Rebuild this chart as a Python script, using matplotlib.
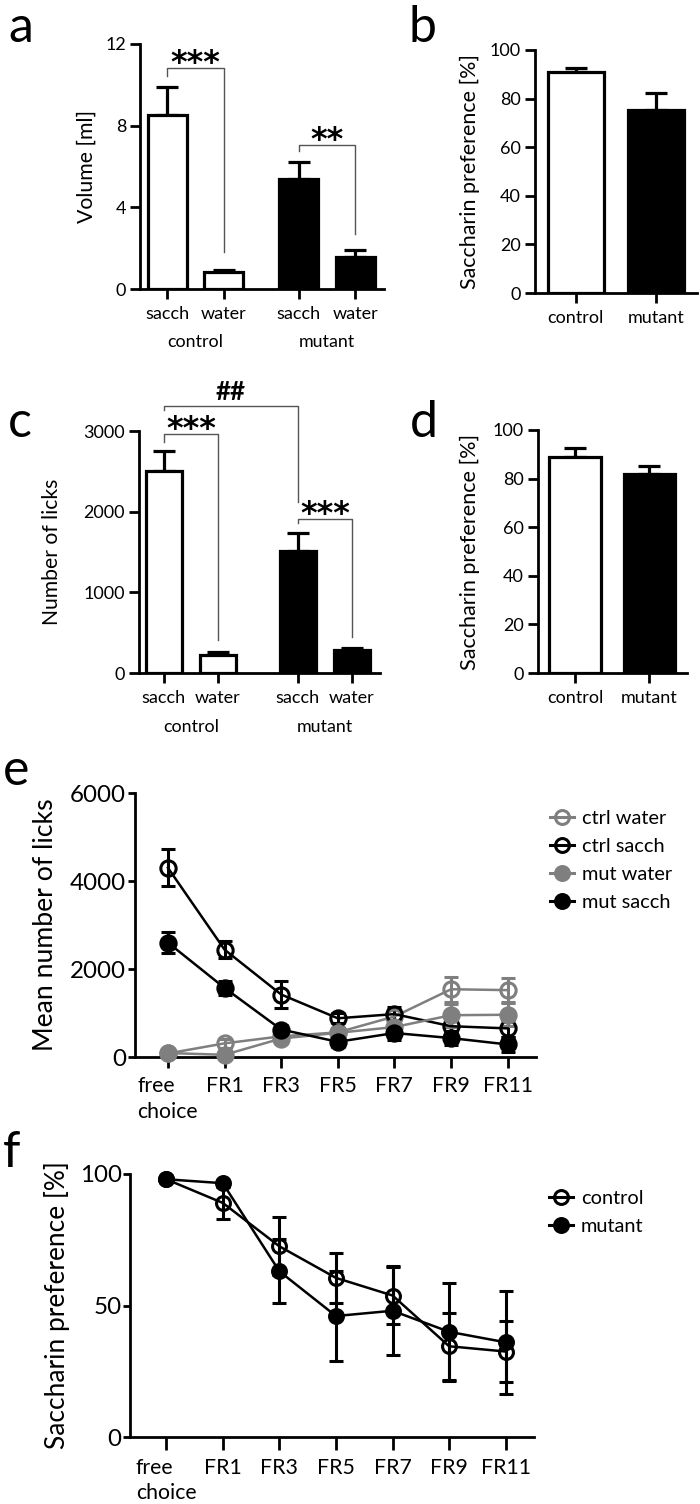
import matplotlib
matplotlib.use("Agg")
import matplotlib.pyplot as plt
from matplotlib.lines import Line2D
import numpy as np

plt.rcParams['font.family'] = ['Lato', 'DejaVu Sans']

# ---------------- data ----------------
a_ticklabels = ['sacch', 'water', 'sacch', 'water']
a_groups = ['control', 'mutant']
a_volume = [8.5, 0.83, 5.4, 1.55]
a_volume_err = [1.4, 0.1, 0.8, 0.35]

b_groups = ['control', 'mutant']
b_pref = [91.0, 75.3]
b_pref_err = [1.5, 7.2]

c_ticklabels = ['sacch', 'water', 'sacch', 'water']
c_groups = ['control', 'mutant']
c_licks = [2500, 225, 1515, 285]
c_licks_err = [250, 35, 225, 22]

d_groups = ['control', 'mutant']
d_pref = [89.0, 81.8]
d_pref_err = [3.7, 3.4]

stages = ['free\nchoice', 'FR1', 'FR3', 'FR5', 'FR7', 'FR9', 'FR11']
e_ctrl_water = [80, 310, 470, 560, 920, 1540, 1520]
e_ctrl_water_err = [30, 100, 90, 100, 150, 285, 270]
e_ctrl_sacch = [4300, 2440, 1420, 880, 975, 700, 650]
e_ctrl_sacch_err = [420, 190, 300, 110, 170, 150, 200]
e_mut_water = [90, 50, 420, 550, 680, 950, 960]
e_mut_water_err = [30, 30, 100, 100, 100, 260, 260]
e_mut_sacch = [2600, 1570, 625, 345, 545, 430, 285]
e_mut_sacch_err = [235, 150, 110, 110, 150, 150, 180]

f_ctrl = [98, 89, 72.5, 60.5, 53.8, 34.5, 32.5]
f_ctrl_err = [1, 6, 11, 9.5, 10.8, 12.7, 11.6]
f_mut = [98, 96.5, 63, 46, 48, 40, 36]
f_mut_err = [1, 1, 12.2, 17, 17, 18.6, 19.7]

# ---------------- layout ----------------
W, H = 700, 1504
fig = plt.figure(figsize=(W / 100, H / 100), dpi=100)
renderer = fig.canvas.get_renderer()
GRAY = '#7f7f7f'
SPW = 2.0


def size_for(s, target_w, **kw):
    t = fig.text(0, 0, s, fontsize=20, **kw)
    w = t.get_window_extent(renderer).width
    t.remove()
    return 20 * target_w / w


FS_BAR = size_for('sacch', 44)
FS_GRP = size_for('control', 56)
FS_LINE_X = size_for('FR11', 50)
FS_LINE_Y = size_for('6000', 56)
FS_STAR = size_for('***', 50, family='DejaVu Sans', fontweight='bold')
FS_HASH = size_for('##', 30, fontweight='bold')
FS_LEG = size_for('ctrl water', 85)


def ax_px(left, top, right, bottom):
    return fig.add_axes([left / W, 1 - bottom / H, (right - left) / W, (bottom - top) / H])


def style(ax, fsx, fsy, ylen=5, xlen=5, ypad=3, xpad=4):
    for s in ['top', 'right']:
        ax.spines[s].set_visible(False)
    for s in ['left', 'bottom']:
        ax.spines[s].set_linewidth(SPW)
    ax.tick_params(axis='y', length=ylen, width=SPW, labelsize=fsy, pad=ypad)
    ax.tick_params(axis='x', length=xlen, width=SPW, labelsize=fsx, pad=xpad)


def ylabel(ax, text, right_px, left_px, width_px, length_px):
    lab = ax.set_ylabel(text, fontsize=20)
    ext = lab.get_window_extent(renderer).height
    lab.set_fontsize(20 * length_px / ext)
    ax.yaxis.set_label_coords((right_px - left_px) / width_px, 0.5)


def panel_letter(x, y, s, size=36):
    fig.text(x / W, 1 - y / H, s, fontsize=size, ha='left', va='baseline')


def bars(ax, pos, vals, errs, width):
    colors = ['white', 'white', 'black', 'black'] if len(vals) == 4 else ['white', 'black']
    ax.bar(pos, vals, width=width, color=colors, edgecolor='black', linewidth=2.3, zorder=3)
    ax.errorbar(pos, vals, yerr=[np.zeros(len(vals)), errs], fmt='none', ecolor='black',
                elinewidth=2.3, capsize=8, capthick=2.3, zorder=2)


def bracket(ax, x1, x2, y, y1, y2, text, kind='star'):
    ax.plot([x1, x1, x2, x2], [y1, y, y, y2], color='#555555', lw=1.0, clip_on=False, zorder=4)
    if kind == 'star':
        ax.annotate(text, ((x1 + x2) / 2, y), xytext=(0, -2.5), textcoords='offset points',
                    ha='center', va='baseline', fontsize=FS_STAR, fontweight='bold',
                    family='DejaVu Sans', annotation_clip=False)
    else:
        ax.annotate(text, ((x1 + x2) / 2, y), xytext=(0, 4.5), textcoords='offset points',
                    ha='center', va='baseline', fontsize=FS_HASH, fontweight='bold',
                    annotation_clip=False)


# ---- panel a ----
axa = ax_px(140, 44, 384, 289)
pos_a = [0, 1, 2.33, 3.33]
bars(axa, pos_a, a_volume, a_volume_err, 0.69)
axa.set_xlim(-0.48, 3.84)
axa.set_ylim(0, 12)
axa.set_yticks([0, 4, 8, 12])
axa.set_xticks(pos_a)
axa.set_xticklabels(a_ticklabels)
style(axa, FS_BAR, FS_BAR, ylen=7, xlen=7, ypad=3, xpad=5)
ylabel(axa, 'Volume [ml]', 97, 140, 244, 113)
for gx, g in zip([0.5, 2.83], a_groups):
    axa.text(gx, -53 / 245, g, transform=axa.get_xaxis_transform(), ha='center',
             va='center', fontsize=FS_GRP)
bracket(axa, 0, 1, 10.8, 10.45, 1.8, '***')
bracket(axa, 2.33, 3.33, 7.05, 6.75, 2.7, '**')
panel_letter(8, 42, 'a')

# ---- panel b ----
axb = ax_px(535, 50, 697, 293)
bars(axb, [0, 1], b_pref, b_pref_err, 0.69)
axb.set_xlim(-0.51, 1.51)
axb.set_ylim(0, 100)
axb.set_yticks(range(0, 101, 20))
axb.set_xticks([0, 1])
axb.set_xticklabels(b_groups)
style(axb, FS_BAR, FS_BAR, ylen=7, xlen=7, xpad=5)
ylabel(axb, 'Saccharin preference [%]', 480, 535, 162, 235)
panel_letter(408, 42, 'b')

# ---- panel c ----
axc = ax_px(139, 431, 380, 673)
pos_c = [0, 1, 2.48, 3.48]
bars(axc, pos_c, c_licks, c_licks_err, 0.67)
axc.set_xlim(-0.46, 4.0)
axc.set_ylim(0, 3000)
axc.set_yticks([0, 1000, 2000, 3000])
axc.set_xticks(pos_c)
axc.set_xticklabels(c_ticklabels)
style(axc, FS_BAR, FS_BAR, ylen=7, xlen=7, xpad=5)
ylabel(axc, 'Number of licks', 62, 139, 241, 147)
for gx, g in zip([0.5, 2.98], c_groups):
    axc.text(gx, -54 / 242, g, transform=axc.get_xaxis_transform(), ha='center',
             va='center', fontsize=FS_GRP)
bracket(axc, 0, 1, 2960, 2865, 410, '***')
bracket(axc, 2.48, 3.48, 1906, 1857, 450, '***')
bracket(axc, 0, 2.48, 3310, 3256, 2120, '##', kind='hash')
panel_letter(8, 437, 'c')

# ---- panel d ----
axd = ax_px(538, 430, 687, 673)
bars(axd, [0, 1], d_pref, d_pref_err, 0.69)
axd.set_xlim(-0.5, 1.51)
axd.set_ylim(0, 100)
axd.set_yticks(range(0, 101, 20))
axd.set_xticks([0, 1])
axd.set_xticklabels(d_groups)
style(axd, FS_BAR, FS_BAR, ylen=7, xlen=7, xpad=5)
ylabel(axd, 'Saccharin preference [%]', 480, 538, 149, 237)
panel_letter(410, 437, 'd')

# ---- panel e ----
axe = ax_px(134.5, 793, 536, 1057)
x = np.arange(len(stages))
series_e = [
    (e_ctrl_water, e_ctrl_water_err, GRAY, 'none', 'ctrl water'),
    (e_ctrl_sacch, e_ctrl_sacch_err, 'black', 'none', 'ctrl sacch'),
    (e_mut_water, e_mut_water_err, GRAY, GRAY, 'mut water'),
    (e_mut_sacch, e_mut_sacch_err, 'black', 'black', 'mut sacch'),
]
handles_e = []
for vals, errs, col, fc, lab in series_e:
    axe.errorbar(x, vals, yerr=errs, color=col, lw=1.8, marker='o', ms=11,
                 mfc=fc, mec=col, mew=2.2, capsize=4.7, capthick=2.2, elinewidth=2.2,
                 clip_on=False, zorder=3)
    handles_e.append(Line2D([], [], color=col, lw=2.2, marker='o', ms=10, mfc=fc,
                            mec=col, mew=2.2, label=lab))
axe.set_xlim(-0.59, 6.5)
axe.set_ylim(0, 6000)
axe.set_yticks([0, 2000, 4000, 6000])
axe.set_xticks(x)
axe.set_xticklabels(stages, multialignment='left', linespacing=1.35)
style(axe, FS_LINE_X, FS_LINE_Y, ylen=5, xlen=8, ypad=1, xpad=6)
ylabel(axe, 'Mean number of licks', 58, 134.5, 401.5, 253)
axe.legend(handles=handles_e, loc='upper left', bbox_to_anchor=(550 / W, 1 - 810 / H),
           bbox_transform=fig.transFigure, frameon=False, fontsize=FS_LEG,
           handlelength=1.2, handletextpad=0.4, labelspacing=0.55, borderpad=0,
           borderaxespad=0)
panel_letter(3, 785, 'e')

# ---- panel f ----
axf = ax_px(130, 1174, 534, 1437)
series_f = [
    (f_ctrl, f_ctrl_err, 'none', 'control'),
    (f_mut, f_mut_err, 'black', 'mutant'),
]
handles_f = []
for vals, errs, fc, lab in series_f:
    axf.errorbar(x, vals, yerr=errs, color='black', lw=1.8, marker='o', ms=10,
                 mfc=fc, mec='black', mew=2.2, capsize=4.7, capthick=2.2, elinewidth=2.2,
                 clip_on=False, zorder=3)
    handles_f.append(Line2D([], [], color='black', lw=2.2, marker='o', ms=10, mfc=fc,
                            mec='black', mew=2.2, label=lab))
axf.set_xlim(-0.64, 6.5)
axf.set_ylim(0, 100)
axf.set_yticks([0, 50, 100])
axf.set_xticks(x)
axf.set_xticklabels(stages, multialignment='left', linespacing=1.35)
style(axf, FS_LINE_X, FS_LINE_Y, ylen=5, xlen=9, ypad=1, xpad=6)
ylabel(axf, 'Saccharin preference [%]', 70, 130, 404, 288)
axf.legend(handles=handles_f, loc='upper left', bbox_to_anchor=(549 / W, 1 - 1190 / H),
           bbox_transform=fig.transFigure, frameon=False, fontsize=FS_LEG,
           handlelength=1.2, handletextpad=0.4, labelspacing=0.55, borderpad=0,
           borderaxespad=0)
panel_letter(3, 1167, 'f')

fig.savefig('out.png', dpi=100)
